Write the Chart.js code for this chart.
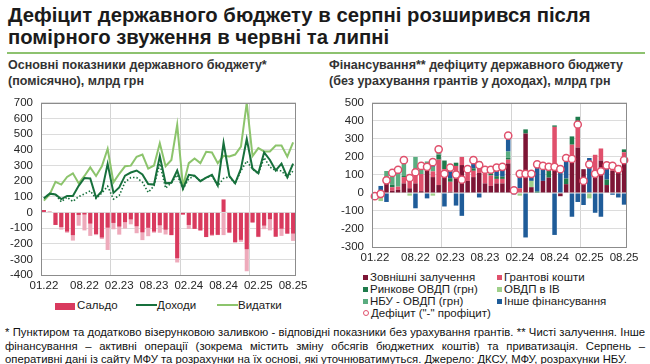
<!DOCTYPE html>
<html lang="uk">
<head>
<meta charset="utf-8">
<script src="https://cdn.jsdelivr.net/npm/chart.js@4/dist/chart.umd.min.js"></script>
<style>
  html, body { margin: 0; padding: 0; background: #fff; }
  body { width: 650px; height: 364px; position: relative; overflow: hidden;
         font-family: "Liberation Sans Narrow", "Arial Narrow", "Liberation Sans", Arial, sans-serif; color: #1a1a1a; }
  .abs { position: absolute; }
  #title { left: 8px; top: 4px; width: 640px; font-size: 20.3px; font-weight: bold; line-height: 22px; color: #1b1b1b; }
  #rule { left: 7px; top: 52px; width: 638px; height: 2px; background: #8dc26f; }
  .sub { top: 57px; font-size: 12.5px; font-weight: bold; line-height: 16px; color: #333; }
  .leg { font-family: "Liberation Sans", Arial, sans-serif; font-size: 11.5px; color: #1a1a1a; white-space: nowrap; line-height: 12px; }
  .sq { display: inline-block; width: 5px; height: 5px; margin-right: 2px; vertical-align: 1px; }
  .ci { display: inline-block; width: 4px; height: 4px; border: 1px solid #e0506c; border-radius: 50%; margin-right: 2px; vertical-align: 1px; }
  #foot { left: 5px; top: 326px; width: 640px; font-size: 11.3px; line-height: 13.5px; color: #111; }
  #foot div { text-align: justify; text-align-last: justify; white-space: nowrap; }
  #foot div.last { text-align-last: left; }
</style>
</head>
<body>
<div id="title" class="abs">Дефіцит державного бюджету в серпні розширився після<br>помірного звуження в червні та липні</div>
<div id="rule" class="abs"></div>
<div class="abs sub" style="left:8px">Основні показники державного бюджету*<br>(помісячно), млрд грн</div>
<div class="abs sub" style="left:329px">Фінансування** дефіциту державного бюджету<br>(без урахування грантів у доходах), млрд грн</div>

<div class="abs" style="left:0;top:88px"><canvas id="budget" width="312" height="206"></canvas></div>
<div class="abs" style="left:330px;top:88px"><canvas id="financing" width="318" height="180"></canvas></div>

<div class="abs leg" style="left:55px;top:299px"><span style="display:inline-block;width:20px;height:7px;background:#d93a5e;vertical-align:-1px;margin-right:2px"></span>Сальдо</div>
<div class="abs leg" style="left:136px;top:299px"><span style="display:inline-block;width:21px;height:2px;background:#17703c;vertical-align:3px"></span>Доходи</div>
<div class="abs leg" style="left:217px;top:299px"><span style="display:inline-block;width:21px;height:2px;background:#8cc46c;vertical-align:3px"></span>Видатки</div>

<div class="abs leg" style="left:363px;top:271px"><span class="sq" style="background:#7d1535"></span>Зовнішні залучення</div>
<div class="abs leg" style="left:497px;top:271px"><span class="sq" style="background:#e0506c"></span>Грантові кошти</div>
<div class="abs leg" style="left:363px;top:283px"><span class="sq" style="background:#1e7b4c"></span>Ринкове ОВДП (грн)</div>
<div class="abs leg" style="left:497px;top:283px"><span class="sq" style="background:#9fd08a"></span>ОВДП в ІВ</div>
<div class="abs leg" style="left:363px;top:295px"><span class="sq" style="background:#5aad80"></span>НБУ - ОВДП (грн)</div>
<div class="abs leg" style="left:497px;top:295px"><span class="sq" style="background:#1f5c99"></span>Інше фінансування</div>
<div class="abs leg" style="left:363px;top:307px"><span class="ci"></span>Дефіцит ("-" профіцит)</div>

<div id="foot" class="abs">
  <div>* Пунктиром та додатково візерунковою заливкою - відповідні показники без урахування грантів. ** Чисті залучення. Інше</div>
  <div>фінансування – активні операції (зокрема містить зміну обсягів бюджетних коштів) та приватизація. Серпень –</div>
  <div class="last">оперативні дані із сайту МФУ та розрахунки на їх основі, які уточнюватимуться. Джерело: ДКСУ, МФУ, розрахунки НБУ.</div>
</div>

<script>
// months 01.22 .. 08.25
const months = ['01.22','02.22','03.22','04.22','05.22','06.22','07.22','08.22','09.22','10.22','11.22','12.22',
  '01.23','02.23','03.23','04.23','05.23','06.23','07.23','08.23','09.23','10.23','11.23','12.23',
  '01.24','02.24','03.24','04.24','05.24','06.24','07.24','08.24','09.24','10.24','11.24','12.24',
  '01.25','02.25','03.25','04.25','05.25','06.25','07.25','08.25'];

// left chart, bn UAH
const revenue = [90,120,115,85,105,105,170,220,217,95,135,310, 125,160,235,255,268,243,182,178,360,186,190,268,
  152,240,235,200,223,240,172,445,233,186,280,469, 280,250,383,335,268,312,225,312];
const revenueNoGrants = [90,120,115,68,97,70,101,118,138,88,125,167, 85,108,194,223,223,193,128,170,312,155,190,240,
  150,214,234,200,222,233,170,217,229,183,267,328, 276,247,350,290,268,266,223,265];
const expenditure = [75,115,195,178,227,250,186,233,288,233,295,407, 192,247,295,299,356,370,280,300,442,295,335,560,
  165,315,345,315,387,383,315,362,358,370,420,700, 360,411,390,390,428,428,356,448];
const balance = [15,5,-80,-93,-122,-145,-16,-13,-71,-138,-160,-97, -67,-90,-62,-44,-88,-127,-98,-122,-82,-110,-145,-292,
  -13,-80,-105,-115,-157,-143,-143,83,-128,-190,-175,-235, -63,-155,-84,-43,-155,-104,-135,-135];
const balanceNoGrants = [15,5,-80,-110,-130,-180,-85,-115,-150,-145,-170,-240, -108,-142,-103,-76,-133,-177,-152,-130,-130,-141,-145,-320,
  -15,-106,-106,-115,-158,-150,-145,-145,-132,-193,-188,-376, -67,-158,-107,-115,-155,-150,-137,-182];

// right chart, bn UAH
const external = [0,0,62,12,18,53,26,53,10,127,88,44, 97,7,88,155,67,88,111,53,39,53,53,164,
  0,0,330,32,0,67,85,132,-18,49,168,252, 132,4,92,180,44,123,120,164];
const grants = [0,0,0,20,17,35,70,47,95,0,32,141, 35,55,62,45,65,35,30,70,58,25,25,21,
  22,26,0,0,0,0,0,235,0,0,100,140, 0,0,120,67,0,35,0,62];
const marketBonds = [0,0,2,14,0,6,0,0,0,0,0,27, 48,20,18,0,0,14,35,6,32,15,12,10,
  0,0,23,0,8,0,38,8,0,31,46,31, 0,0,0,0,30,0,35,16];
const fxBonds = [0,-45,0,0,0,0,-15,0,0,0,-15,0, 0,0,0,0,0,0,0,0,0,0,0,0,
  0,-15,0,35,0,0,0,0,0,0,0,0, 0,-30,0,0,0,0,0,0];
const nbuBonds = [0,0,58,65,70,88,0,100,27,48,25,35, 0,0,0,0,0,0,0,0,0,0,0,35,
  0,0,0,0,0,0,0,0,0,0,0,0, 0,0,0,0,0,0,0,0];
const otherFin = [-15,39,-50,0,23,0,0,-85,18,-30,40,0, -75,61,-70,-127,0,45,-25,0,0,45,55,83,
  -8,94,-247,39,150,83,22,-233,150,112,-132,-50, -67,190,-110,-132,81,-10,-25,-65];
const deficit = [-18,-5,70,111,129,182,83,115,150,145,171,242, 106,141,102,74,132,182,155,129,129,141,145,318,
  14,106,106,106,159,150,145,145,132,194,189,380, 67,159,106,120,153,150,132,182];

const tickFont = { family: "'Liberation Sans', Arial, sans-serif", size: 11.5 };
const tickColor = '#262626';

// box around the plot area
const frame = {
  id: 'frame',
  afterDatasetsDraw(chart) {
    const { ctx, chartArea: a } = chart;
    ctx.save();
    ctx.strokeStyle = '#8c8c8c';
    ctx.lineWidth = 1;
    ctx.strokeRect(Math.round(a.left) + 0.5, Math.round(a.top) + 0.5, Math.round(a.width) - 1, Math.round(a.height));
    ctx.restore();
  }
};

function xScale(height) {
  return {
    stacked: true,
    offset: true,
    afterFit: s => { s.height = height; },
    border: { display: false },
    grid: { offset: true, drawTicks: false, lineWidth: 1,
            color: c => (c.index > 0 && c.index < months.length && c.index % 12 === 0) ? '#d4d4d4' : 'rgba(0,0,0,0)' },
    ticks: { autoSkip: false, maxRotation: 0, padding: 4, font: tickFont, color: tickColor,
             callback: (v, i) => (i === 0 || (i > 1 && i % 6 === 1)) ? months[i] : '' }
  };
}

function yScale(min, max, width, stacked) {
  return {
    min: min, max: max, stacked: stacked,
    afterFit: s => { s.width = width; },
    border: { display: false },
    grid: { drawTicks: false, color: '#dcdcdc', lineWidth: 1 },
    ticks: { stepSize: 100, autoSkip: false, padding: 8, font: tickFont, color: tickColor }
  };
}

Chart.defaults.animation = false;

new Chart(document.getElementById('budget'), {
  data: {
    labels: months,
    datasets: [
      { type: 'line', data: revenueNoGrants, borderColor: '#17703c', borderWidth: 1.6, borderDash: [1.5, 2],
        pointRadius: 0, tension: 0 },
      { type: 'line', data: revenue, borderColor: '#17703c', borderWidth: 2, pointRadius: 0, tension: 0 },
      { type: 'line', data: expenditure, borderColor: '#8cc46c', borderWidth: 2, pointRadius: 0, tension: 0 },
      { type: 'bar', data: balance, backgroundColor: '#d93a5e', grouped: false, barPercentage: 0.7, categoryPercentage: 1 },
      { type: 'bar', data: balanceNoGrants, backgroundColor: '#eeaabb', grouped: false, barPercentage: 0.7, categoryPercentage: 1 }
    ]
  },
  options: {
    responsive: false,
    layout: { padding: { top: 8, right: 16, left: 0, bottom: 0 } },
    plugins: { legend: { display: false }, tooltip: { enabled: false } },
    scales: { x: Object.assign(xScale(19), { stacked: false }), y: yScale(-400, 700, 41, false) }
  },
  plugins: [frame]
});

const bar = (data, color) => ({ type: 'bar', data: data, backgroundColor: color, stack: 'fin',
  barPercentage: 0.78, categoryPercentage: 1 });

new Chart(document.getElementById('financing'), {
  data: {
    labels: months,
    datasets: [
      { type: 'line', data: deficit, showLine: false, stack: 'def', pointRadius: 3.6, pointBorderWidth: 1.5,
        pointBackgroundColor: '#ffffff', pointBorderColor: '#e0506c' },
      bar(external, '#7d1535'),
      bar(grants, '#e0506c'),
      bar(marketBonds, '#1e7b4c'),
      bar(fxBonds, '#9fd08a'),
      bar(nbuBonds, '#5aad80'),
      bar(otherFin, '#1f5c99')
    ]
  },
  options: {
    responsive: false,
    layout: { padding: { top: 8, right: 21, left: 0, bottom: 0 } },
    plugins: { legend: { display: false }, tooltip: { enabled: false } },
    scales: { x: xScale(21), y: yScale(-300, 500, 42, true) }
  },
  plugins: [frame]
});
</script>
</body>
</html>
